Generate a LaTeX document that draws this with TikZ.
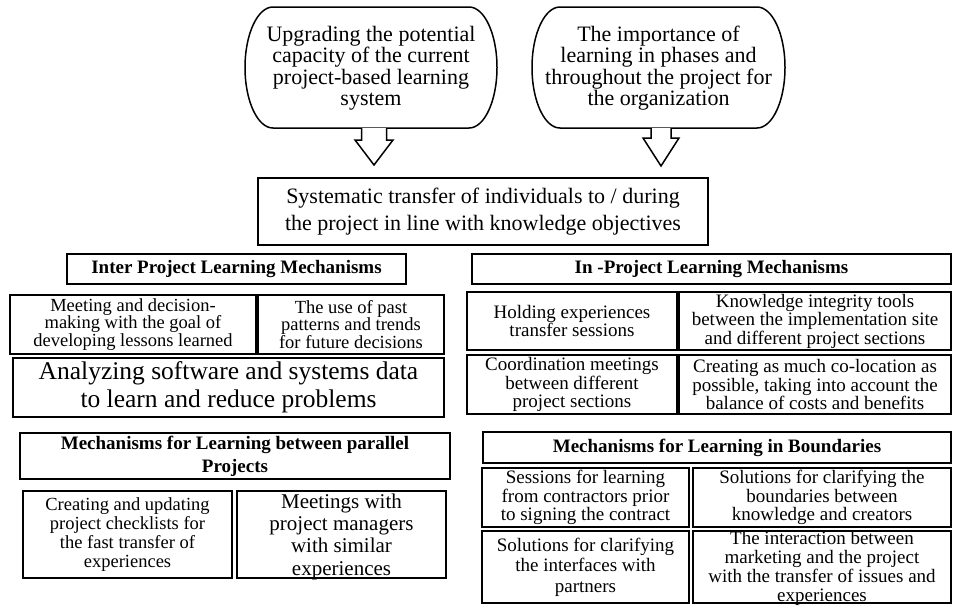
\documentclass[tikz,border=0pt]{standalone}
\usepackage{fontspec}
\setmainfont{Liberation Serif}
\usetikzlibrary{calc,fit}
\newcommand\fsz[2]{\fontsize{#1}{#2}\selectfont}
\begin{document}
\begin{tikzpicture}[x=1pt,y=-1pt,
  box/.style={draw, line width=2pt, inner sep=0pt, outer sep=0pt},
  txt/.style={align=center, inner sep=0pt},
  hd/.style={txt, font=\fsz{19}{23}\bfseries},
  rt/.style={txt, font=\fsz{19}{18.5}},
  lt/.style={txt, font=\fsz{18.5}{17.5}},
  shp/.style={draw, line width=1.5pt},
  blk/.style={draw, line width=1.5pt, fill=white, line join=miter}]
\useasboundingbox (0,0) rectangle (953,605);

% top rounded shapes
\draw[shp] (273,7) -- (469,7) arc[start angle=90, end angle=-90, x radius=28pt, y radius=60.5pt]
  -- (273,128) arc[start angle=270, end angle=90, x radius=28pt, y radius=60.5pt] -- cycle;
\node[txt, font=\fsz{22}{21.5}] (s1) at (371,68) {Upgrading the potential\\capacity of the current\\project-based learning\\system};
\draw[shp] (560,7) -- (757,7) arc[start angle=90, end angle=-90, x radius=28pt, y radius=60.5pt]
  -- (560,128) arc[start angle=270, end angle=90, x radius=28pt, y radius=60.5pt] -- cycle;
\node[txt, font=\fsz{22}{21.5}] (s2) at (658.5,68) {The importance of\\learning in phases and\\throughout the project for\\the organization};

% block arrows
\coordinate (s1b) at (374,128);
\coordinate (s2b) at (661,128);
\draw[blk] ($(s1b)+(-12.5,0)$) -- ($(s1b)+(-12.5,12)$) -- ($(s1b)+(-19,12)$) -- ($(s1b)+(0,37)$)
  -- ($(s1b)+(19,12)$) -- ($(s1b)+(12.5,12)$) -- ($(s1b)+(12.5,0)$);
\draw[blk] ($(s2b)+(-10,0)$) -- ($(s2b)+(-10,10)$) -- ($(s2b)+(-18,10)$) -- ($(s2b)+(0,38)$)
  -- ($(s2b)+(18,10)$) -- ($(s2b)+(10,10)$) -- ($(s2b)+(10,0)$);

% central box
\node[box, fit={(258,178) (708,245)}] (c) {};
\node[txt, font=\fsz{22}{27.5}] (ct) at (c) {Systematic transfer of individuals to / during\\the project in line with knowledge objectives};

% left section
\node[box, fit={(67,254) (406,284)}] (hl1) {};
\node[hd] (hl1t) at (hl1) {Inter Project Learning Mechanisms};
\node[box, fit={(10,295) (256,354)}] (a) {};
\node[lt] (at) at (a) {Meeting and decision-\\making with the goal of\\developing lessons learned};
\node[box, fit={(258,295) (444,354)}] (b) {};
\node[lt] (bt) at (b) {The use of past\\patterns and trends\\for future decisions};
\node[box, fit={(13,358) (444,417)}] (cc) {};
\node[txt, font=\fsz{25.5}{28}] (cct) at (cc) {Analyzing software and systems data\\to learn and reduce problems};
\node[box, fit={(20,433) (450,479)}] (hl2) {};
\node[hd] (hl2t) at (hl2) {Mechanisms for Learning between parallel\\Projects};
\node[box, fit={(23,491) (232,578)}] (d) {};
\node[txt, font=\fsz{18.5}{19}] (dt) at (d) {Creating and updating\\project checklists for\\the fast transfer of\\experiences};
\node[box, fit={(237,491) (446,578)}] (e) {};
\node[txt, font=\fsz{21}{22.3}] (et) at ($(e)+(0,2)$) {Meetings with\\project managers\\with similar\\experiences};

% right section
\node[box, fit={(472,254) (951,284)}] (hr1) {};
\node[hd] (hr1t) at (hr1) {In -Project Learning Mechanisms};
\node[box, fit={(467,292) (677,350)}] (f) {};
\node[rt] (ft) at (f) {Holding experiences\\transfer sessions};
\node[box, fit={(679,292) (951,350)}] (g) {};
\node[rt] (gt) at (g) {Knowledge integrity tools\\between the implementation site\\and different project sections};
\node[box, fit={(467,355) (677,414)}] (h) {};
\node[rt] (htx) at (h) {Coordination meetings\\between different\\project sections};
\node[box, fit={(679,355) (951,414)}] (i) {};
\node[rt] (it) at (i) {Creating as much co-location as\\possible, taking into account the\\balance of costs and benefits};
\node[box, fit={(483,432) (951,463)}] (hr2) {};
\node[hd] (hr2t) at (hr2) {Mechanisms for Learning in Boundaries};
\node[box, fit={(482,468) (689,527)}] (j) {};
\node[rt] (jt) at (j) {Sessions for learning\\from contractors prior\\to signing the contract};
\node[box, fit={(693,468) (951,527)}] (k) {};
\node[rt] (kt) at (k) {Solutions for clarifying the\\boundaries between\\knowledge and creators};
\node[box, fit={(482,531) (689,603)}] (m) {};
\node[rt, font=\fsz{19}{20.5}] (mt) at (m) {Solutions for clarifying\\the interfaces with\\partners};
\node[box, fit={(693,531) (951,603)}] (l) {};
\node[rt, font=\fsz{19}{19}] (ltx) at ($(l)+(0,1.5)$) {The interaction between\\marketing and the project\\with the transfer of issues and\\experiences};
\end{tikzpicture}
\end{document}
